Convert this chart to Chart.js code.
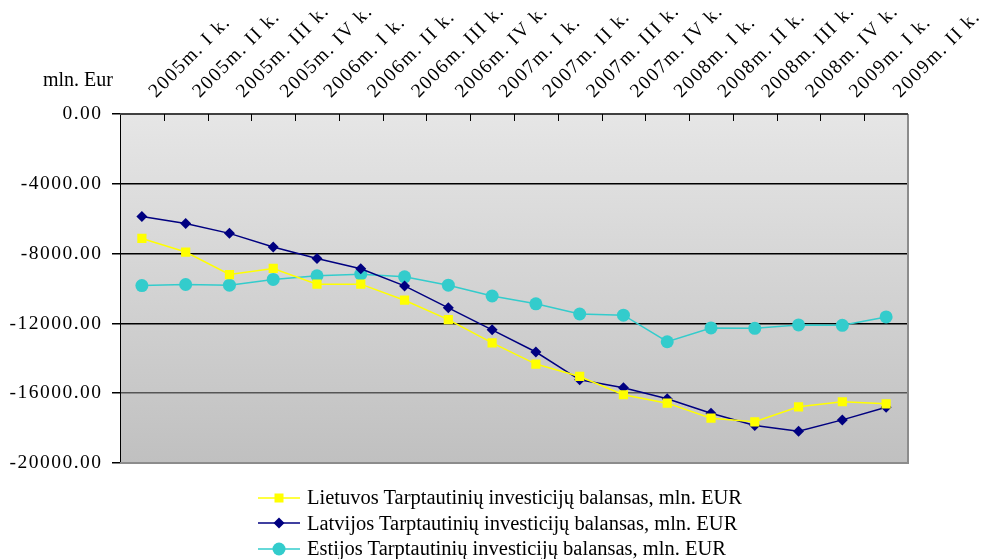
<!DOCTYPE html>
<html>
<head>
<meta charset="utf-8">
<script src="https://cdn.jsdelivr.net/npm/chart.js@4"></script>
<style>
  html, body { margin: 0; padding: 0; background: #fff; }
  #wrap { position: relative; width: 985px; height: 559px; }
  #legend { position: absolute; left: 258px; top: 485px; font-family: "Liberation Serif", serif; font-size: 20.5px; color: #000; }
  .row { height: 25.5px; display: flex; align-items: center; white-space: nowrap; }
  .row svg { flex: none; margin-right: 7px; }
</style>
</head>
<body>
<div id="wrap">
  <canvas id="c" width="985" height="559"></canvas>
  <div id="legend"></div>
</div>
<script>
const categories = ["2005m. I k.", "2005m. II k.", "2005m. III k.", "2005m. IV k.",
  "2006m. I k.", "2006m. II k.", "2006m. III k.", "2006m. IV k.",
  "2007m. I k.", "2007m. II k.", "2007m. III k.", "2007m. IV k.",
  "2008m. I k.", "2008m. II k.", "2008m. III k.", "2008m. IV k.",
  "2009m. I k.", "2009m. II k."];
const lithuania = [-7130, -7910, -9200, -8850, -9750, -9750, -10670, -11780, -13120, -14330, -15040, -16090, -16570, -17430, -17640, -16780, -16490, -16610];
const latvia = [-5880, -6280, -6840, -7620, -8280, -8870, -9850, -11110, -12370, -13640, -15230, -15690, -16320, -17150, -17850, -18180, -17530, -16800];
const estonia = [-9830, -9770, -9810, -9480, -9270, -9180, -9330, -9810, -10430, -10880, -11460, -11530, -13050, -12260, -12280, -12090, -12110, -11630];
const seriesNames = ["Lietuvos Tarptautinių investicijų balansas, mln. EUR",
  "Latvijos Tarptautinių investicijų balansas, mln. EUR",
  "Estijos Tarptautinių investicijų balansas, mln. EUR"];
const yMin = -20000, yMax = 0, yStep = 4000;
const unitLabel = "mln. Eur";

const FONT = "'Liberation Serif', 'Times New Roman', serif";
const AXIS_SPACING = '1.5px';

const bgPlugin = {
  id: 'bg',
  beforeLayout(chart) { chart.ctx.letterSpacing = AXIS_SPACING; },
  beforeDraw(chart) {
    const {ctx, chartArea: a} = chart;
    ctx.letterSpacing = AXIS_SPACING;
    const g = ctx.createLinearGradient(0, a.top, 0, a.bottom);
    g.addColorStop(0, '#e6e6e6');
    g.addColorStop(1, '#c0c0c0');
    ctx.save();
    ctx.fillStyle = g;
    ctx.fillRect(a.left, a.top, a.right - a.left, a.bottom - a.top);
    ctx.restore();
  },
  afterDraw(chart) {
    const {ctx, chartArea: a} = chart;
    const xs = chart.scales.x;
    ctx.save();
    ctx.strokeStyle = '#8c8c8c';
    ctx.lineWidth = 2;
    ctx.beginPath();
    ctx.moveTo(a.right, a.top);
    ctx.lineTo(a.right, a.bottom);
    ctx.lineTo(a.left, a.bottom);
    ctx.stroke();
    ctx.strokeStyle = '#404040';
    ctx.lineWidth = 2;
    ctx.beginPath();
    ctx.moveTo(a.left, a.top);
    ctx.lineTo(a.right, a.top);
    ctx.stroke();
    ctx.strokeStyle = '#000';
    ctx.lineWidth = 1;
    ctx.beginPath();
    for (let i = 1; i < categories.length; i++) {
      const x = Math.round((xs.getPixelForValue(i - 1) + xs.getPixelForValue(i)) / 2) + 0.5;
      ctx.moveTo(x, a.top);
      ctx.lineTo(x, a.top + 7);
    }
    ctx.stroke();
    ctx.letterSpacing = '0px';
    ctx.fillStyle = '#000';
    ctx.font = '20px ' + FONT;
    ctx.textAlign = 'left';
    ctx.textBaseline = 'alphabetic';
    ctx.fillText(unitLabel, 43, 86);
    ctx.restore();
  }
};

const chart = new Chart(document.getElementById('c'), {
  type: 'line',
  data: {
    labels: categories,
    datasets: [
      { label: seriesNames[0], data: lithuania, borderColor: '#ffff00', backgroundColor: '#ffff00',
        borderWidth: 1.5, pointStyle: 'rect', pointRadius: 6.5, pointBorderWidth: 0, tension: 0 },
      { label: seriesNames[1], data: latvia, borderColor: '#000080', backgroundColor: '#000080',
        borderWidth: 1.5, pointStyle: 'rectRot', pointRadius: 5.5, pointBorderWidth: 0, tension: 0 },
      { label: seriesNames[2], data: estonia, borderColor: '#33cccc', backgroundColor: '#33cccc',
        borderWidth: 1.5, pointStyle: 'circle', pointRadius: 6.5, pointBorderWidth: 0, tension: 0 }
    ]
  },
  options: {
    responsive: false,
    animation: false,
    devicePixelRatio: 1,
    layout: { padding: { left: 0, right: 77, top: 0, bottom: 96 } },
    plugins: { legend: { display: false }, tooltip: { enabled: false } },
    scales: {
      x: {
        position: 'top',
        offset: true,
        grid: { display: false, drawTicks: false },
        border: { display: false },
        ticks: {
          autoSkip: false, maxRotation: 45, minRotation: 45, padding: 11, labelOffset: 27,
          color: '#000', font: { family: FONT, size: 19.5 }
        },
        afterFit(s) { s.height = 114; s.paddingLeft = 0; s.paddingRight = 0; }
      },
      y: {
        min: yMin, max: yMax,
        border: { display: true, color: '#000', width: 1 },
        grid: {
          color: (c) => {
            const v = c.tick ? c.tick.value : null;
            if (v === yMax) return 'rgba(0,0,0,0)';
            if (v === yMin) return 'rgba(0,0,0,0)';
            if (v === -16000) return '#555';
            return '#000';
          },
          tickColor: '#000', tickLength: 8, lineWidth: 1.5
        },
        ticks: {
          stepSize: yStep, padding: 9.5, color: '#000',
          font: { family: FONT, size: 19.5 },
          callback: (v) => Number(v).toFixed(2)
        },
        afterFit(s) { s.width = 120; }
      }
    }
  },
  plugins: [bgPlugin]
});

const markers = [
  '<rect x="16.5" y="2.5" width="9" height="9" fill="#ffff00"/>',
  '<polygon points="21,1.5 26.5,7 21,12.5 15.5,7" fill="#000080"/>',
  '<circle cx="21" cy="7" r="6.5" fill="#33cccc"/>'
];
const colors = ['#ffff00', '#000080', '#33cccc'];
const leg = document.getElementById('legend');
seriesNames.forEach((n, i) => {
  const row = document.createElement('div');
  row.className = 'row';
  row.innerHTML = '<svg width="42" height="14" viewBox="0 0 42 14"><line x1="0" y1="7" x2="42" y2="7" stroke="' + colors[i] + '" stroke-width="1.5"/>' + markers[i] + '</svg><span>' + n + '</span>';
  leg.appendChild(row);
});
</script>
</body>
</html>
